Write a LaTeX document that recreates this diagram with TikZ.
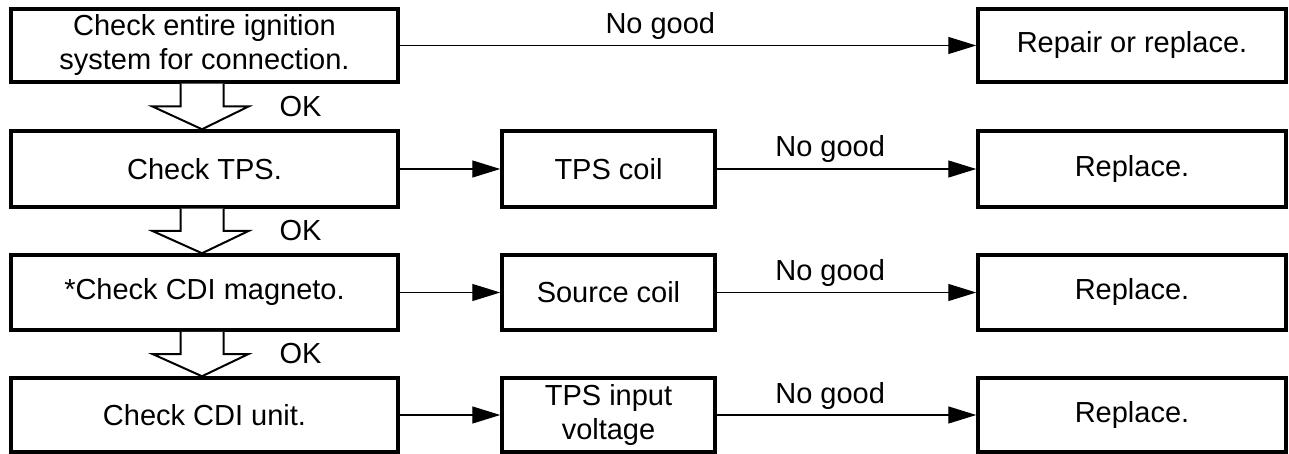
\documentclass[tikz,border=0pt]{standalone}
\usepackage{fontspec}
\setmainfont{Liberation Sans}
\usetikzlibrary{arrows.meta,calc,positioning}
\tikzset{
  box/.style={draw, line width=3.5pt, inner sep=0pt, align=center, font=\fontsize{29}{34}\selectfont},
  leftbox/.style={box, minimum width=387pt, minimum height=75pt},
  midbox/.style={box, minimum width=213pt, minimum height=75pt},
  rightbox/.style={box, minimum width=308pt, minimum height=75pt},
  conn/.style={line width=1.3pt, -{Triangle[length=28pt,width=17pt]}},
  hollowstyle/.style={line width=2pt, line join=miter, fill=white},
  lbl/.style={font=\fontsize{29}{34}\selectfont, inner sep=0pt},
}
\newcommand\hollowarrow[3]{%
  \coordinate (#3) at ($(#1.south)!0.5!(#2.north)$);
  \draw[hollowstyle] ($(#1.south)+(-24,0)$) -- ($(#3)+(-24,0)$) -- ($(#3)+(-52,0)$)
     -- ($(#2.north)+(-2.5,0)$) -- ($(#3)+(44,0)$) -- ($(#3)+(19,0)$) -- ($(#1.south)+(19,0)$);
  \node[lbl] at ($(#3)+(96,0)$) {OK};
}
\begin{document}
\begin{tikzpicture}[x=1pt,y=-1pt]
\useasboundingbox (0,0) rectangle (1289,454);
% left column
\node[leftbox, minimum height=73pt] (c1) at (204.5,45.5) {Check entire ignition\\system for connection.};
\node[leftbox, minimum height=76pt] (c2) at (204.5,169) {Check TPS.};
\node[leftbox] (c3) at (204.5,292.5) {*Check CDI magneto.};
\node[leftbox, minimum height=74pt] (c4) at (204.5,415) {Check CDI unit.};
% middle column
\node[midbox, minimum height=76pt] (m2) at (608.5,169) {TPS coil};
\node[midbox] (m3) at (608.5,292.5) {Source coil};
\node[midbox, minimum height=74pt] (m4) at (608.5,415) {TPS input\\voltage};
% right column
\node[rightbox, minimum height=73pt] (r1) at (1132,45.5) {Repair or replace.};
\node[rightbox, minimum height=76pt] (r2) at (1132,169) {Replace.};
\node[rightbox] (r3) at (1132,292.5) {Replace.};
\node[rightbox, minimum height=74pt] (r4) at (1132,415) {Replace.};
% connectors
\draw[conn] (c1) -- node[lbl, pos=0.452, anchor=base, yshift=12pt] {No good} (r1);
\draw[conn] (c2) -- (m2);
\draw[conn] (c3) -- (m3);
\draw[conn] (c4) -- (m4);
\draw[conn] (m2) -- node[lbl, pos=0.437, anchor=base, yshift=12pt] {No good} (r2);
\draw[conn] (m3) -- node[lbl, pos=0.437, anchor=base, yshift=12pt] {No good} (r3);
\draw[conn] (m4) -- node[lbl, pos=0.437, anchor=base, yshift=12pt] {No good} (r4);
% hollow arrows
\hollowarrow{c1}{c2}{h1}
\hollowarrow{c2}{c3}{h2}
\hollowarrow{c3}{c4}{h3}
\end{tikzpicture}
\end{document}
